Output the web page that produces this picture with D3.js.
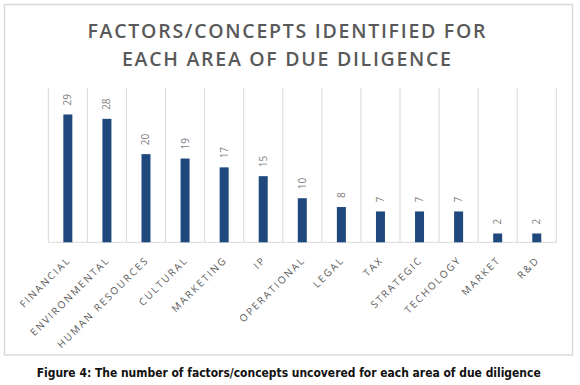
<!DOCTYPE html>
<html>
<head>
<meta charset="utf-8">
<script src="https://cdn.jsdelivr.net/npm/d3@7"></script>
<style>
  html, body { margin: 0; padding: 0; background: #fff; }
  svg { display: block; }
</style>
</head>
<body>
<script>
const titleLines = ["FACTORS/CONCEPTS IDENTIFIED FOR", "EACH AREA OF DUE DILIGENCE"];
const caption = "Figure 4: The number of factors/concepts uncovered for each area of due diligence";
const categories = ["FINANCIAL", "ENVIRONMENTAL", "HUMAN RESOURCES", "CULTURAL", "MARKETING", "IP",
  "OPERATIONAL", "LEGAL", "TAX", "STRATEGIC", "TECHOLOGY", "MARKET", "R&D"];
const values = [29, 28, 20, 19, 17, 15, 10, 8, 7, 7, 7, 2, 2];
const yMax = 35;

const W = 580, H = 385;
const svg = d3.select("body").append("svg").attr("width", W).attr("height", H);

// outer chart border
svg.append("rect")
  .attr("x", 4.5).attr("y", 4.5).attr("width", 568).attr("height", 350.5)
  .attr("fill", "#fff").attr("stroke", "#d9d9d9").attr("stroke-width", 1.5);

// title
const titleW = [400, 331];
titleLines.forEach((t, i) => {
  svg.append("text")
    .attr("x", 287.5).attr("y", 37.5 + i * 28.4)
    .attr("text-anchor", "middle")
    .attr("font-family", "'Open Sans', sans-serif")
    .attr("font-weight", 600)
    .attr("font-size", 19.5)
    .attr("letter-spacing", 2)
    .attr("fill", "#595959")
    .attr("textLength", titleW[i])
    .attr("lengthAdjust", "spacing")
    .text(t);
});

const x = d3.scaleBand().domain(categories).range([48.3, 556.3]).paddingInner(0).paddingOuter(0);
const y = d3.scaleLinear().domain([0, yMax]).range([242.3, 88]);
const barW = 9;

// vertical gridlines at category boundaries
const bounds = categories.map(c => x(c)).concat([x(categories[categories.length - 1]) + x.bandwidth()]);
svg.append("g").selectAll("line").data(bounds).join("line")
  .attr("x1", d => d).attr("x2", d => d)
  .attr("y1", y(yMax)).attr("y2", y(0))
  .attr("stroke", "#d9d9d9").attr("stroke-width", 1);

// baseline
svg.append("line")
  .attr("x1", x.range()[0]).attr("x2", x.range()[1])
  .attr("y1", y(0)).attr("y2", y(0))
  .attr("stroke", "#d9d9d9").attr("stroke-width", 1);

// bars
svg.append("g").selectAll("rect").data(values).join("rect")
  .attr("x", (d, i) => x(categories[i]) + x.bandwidth() / 2 - barW / 2)
  .attr("y", d => y(d))
  .attr("width", barW)
  .attr("height", d => y(0) - y(d))
  .attr("fill", "#1f497d");

// value labels (rotated)
svg.append("g").selectAll("text").data(values).join("text")
  .attr("transform", (d, i) => `translate(${x(categories[i]) + x.bandwidth() / 2},${y(d) - 9}) rotate(-90)`)
  .attr("dy", "0.35em")
  .attr("text-anchor", "start")
  .attr("font-family", "'Open Sans', sans-serif")
  .attr("font-size", 10)
  .attr("fill", "#808080")
  .text(d => d);

// category labels (rotated -45)
svg.append("g").selectAll("text").data(categories).join("text")
  .attr("transform", c => `translate(${x(c) + x.bandwidth() / 2 + 1},${y(0) + 16}) rotate(-45)`)
  .attr("dy", "0.35em")
  .attr("text-anchor", "end")
  .attr("font-family", "'Open Sans', sans-serif")
  .attr("font-size", 10)
  .attr("letter-spacing", 1.9)
  .attr("fill", "#595959")
  .text(c => c);

// caption
svg.append("text")
  .attr("x", 288.7).attr("y", 376.5)
  .attr("text-anchor", "middle")
  .attr("font-family", "'DejaVu Sans Condensed', 'Liberation Sans', Arial, sans-serif")
  .attr("font-weight", "bold")
  .attr("font-size", 12)
  .attr("fill", "#111")
  .attr("textLength", 504)
  .attr("lengthAdjust", "spacingAndGlyphs")
  .text(caption);
</script>
</body>
</html>
